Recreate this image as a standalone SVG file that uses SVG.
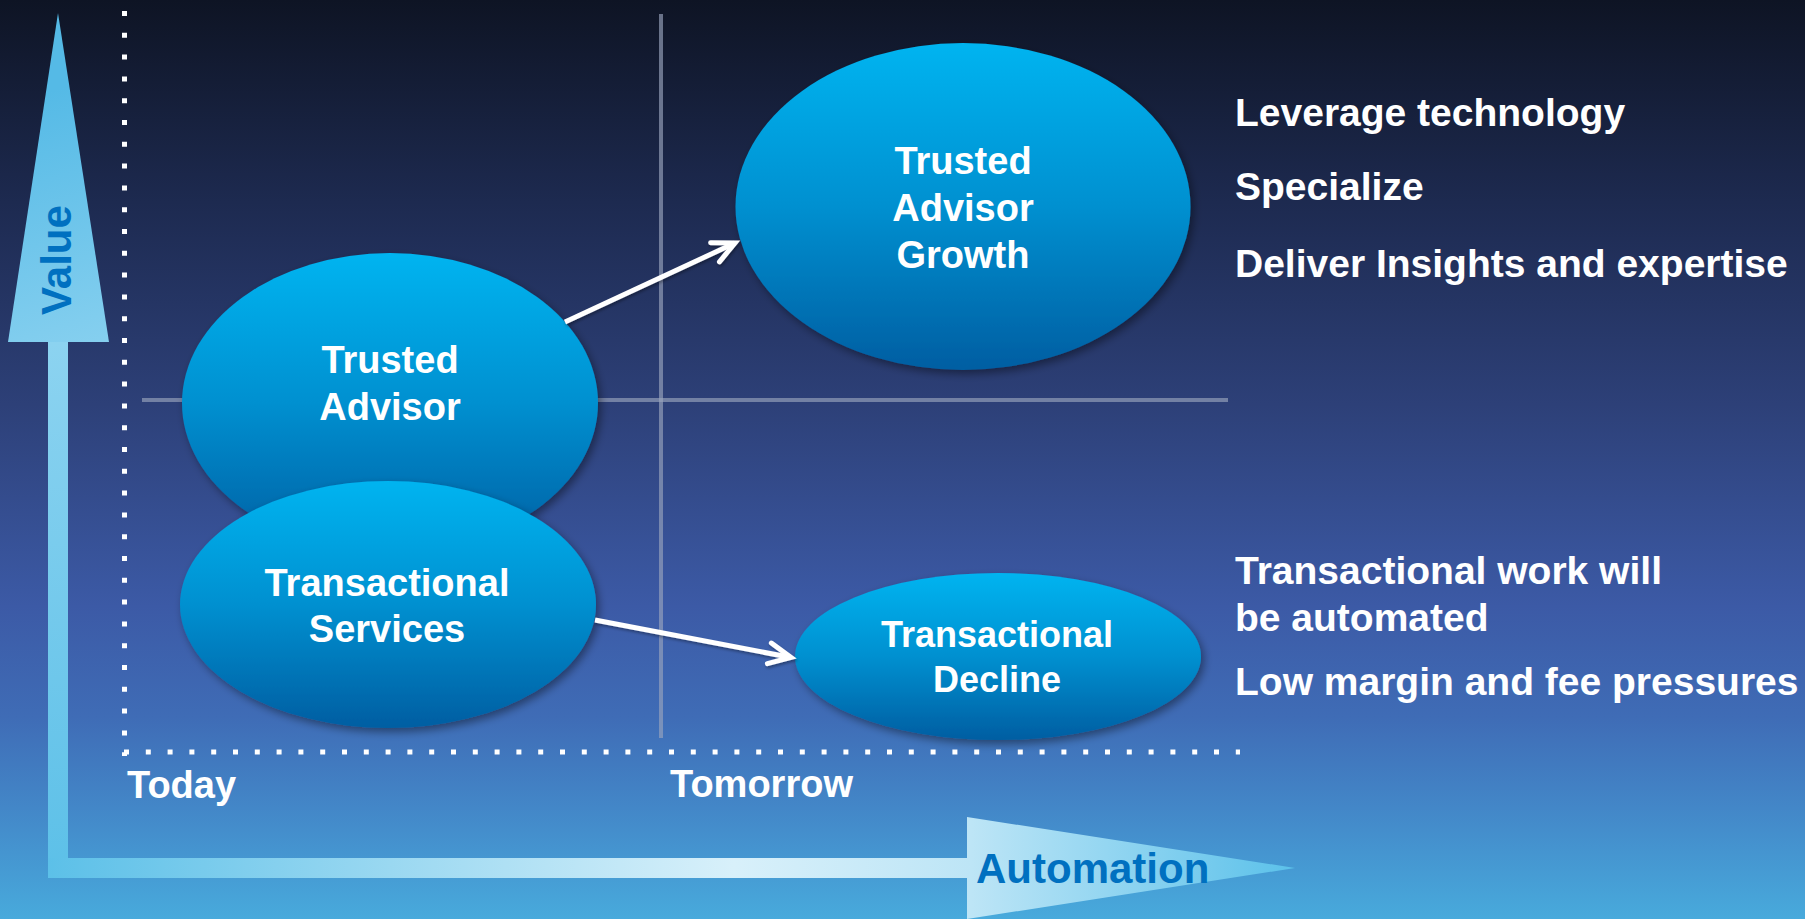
<svg xmlns="http://www.w3.org/2000/svg" width="1805" height="919" viewBox="0 0 1805 919">
  <defs>
    <linearGradient id="bg" x1="0" y1="0" x2="0" y2="919" gradientUnits="userSpaceOnUse">
      <stop offset="0" stop-color="#0e1424"/>
      <stop offset="0.22" stop-color="#1d2a50"/>
      <stop offset="0.44" stop-color="#2d4078"/>
      <stop offset="0.66" stop-color="#3c5aa6"/>
      <stop offset="0.78" stop-color="#3f6cb6"/>
      <stop offset="0.88" stop-color="#4387c8"/>
      <stop offset="1" stop-color="#48aadc"/>
    </linearGradient>
    <linearGradient id="valueGrad" x1="20" y1="100" x2="110" y2="400" gradientUnits="userSpaceOnUse">
      <stop offset="0" stop-color="#55bae6"/>
      <stop offset="1" stop-color="#90d4f1"/>
    </linearGradient>
    <linearGradient id="shaftV" x1="0" y1="342" x2="0" y2="878" gradientUnits="userSpaceOnUse">
      <stop offset="0" stop-color="#8cd3f0"/>
      <stop offset="1" stop-color="#5cc0e8"/>
    </linearGradient>
    <linearGradient id="autoGrad" x1="48" y1="0" x2="1295" y2="0" gradientUnits="userSpaceOnUse">
      <stop offset="0" stop-color="#5cc0e8"/>
      <stop offset="0.55" stop-color="#d8f0fa"/>
      <stop offset="0.74" stop-color="#bde5f6"/>
      <stop offset="1" stop-color="#5bc1ea"/>
    </linearGradient>
    <linearGradient id="ell" x1="0" y1="0" x2="0" y2="1">
      <stop offset="0" stop-color="#00b4f0"/>
      <stop offset="0.5" stop-color="#0090d0"/>
      <stop offset="1" stop-color="#005ea2"/>
    </linearGradient>
    <filter id="shadow" x="-10%" y="-10%" width="125%" height="130%">
      <feDropShadow dx="3" dy="4" stdDeviation="4" flood-color="#000" flood-opacity="0.4"/>
    </filter>
    <filter id="lshadow" x="-10%" y="-20%" width="120%" height="160%">
      <feDropShadow dx="1" dy="2" stdDeviation="1.5" flood-color="#000" flood-opacity="0.35"/>
    </filter>
    <marker id="arrow" markerUnits="userSpaceOnUse" viewBox="-30 -15 36 30" refX="0" refY="0" markerWidth="36" markerHeight="30" orient="auto" overflow="visible">
      <path d="M-22,-10.5 L0,0 L-22,10.5" fill="none" stroke="#ffffff" stroke-width="5" stroke-linecap="round" stroke-linejoin="miter"/>
    </marker>
    <style>
      .dots { stroke: #ffffff; stroke-width: 5; stroke-dasharray: 5 16.8; fill: none; }
      .grid { stroke: #9aa4bd; stroke-opacity: 0.65; stroke-width: 4; fill: none; }
      .node { fill: url(#ell); filter: url(#shadow); }
      .ntxt { font-family: "Liberation Sans", Arial, sans-serif; font-weight: bold; font-size: 38px; fill: #ffffff; text-anchor: middle; }
      .side { font-family: "Liberation Sans", Arial, sans-serif; font-weight: bold; font-size: 39px; fill: #ffffff; }
      .axis { font-family: "Liberation Sans", Arial, sans-serif; font-weight: bold; font-size: 42px; fill: #0070c0; }
      .time { font-family: "Liberation Sans", Arial, sans-serif; font-weight: bold; font-size: 38px; fill: #ffffff; }
      .conn { stroke: #ffffff; stroke-width: 5; fill: none; stroke-linecap: butt; marker-end: url(#arrow); filter: url(#lshadow); }
    </style>
  </defs>

  <rect x="0" y="0" width="1805" height="919" fill="url(#bg)"/>

  <g id="axes">
    <polygon points="48,342 68,342 68,878 48,878" fill="url(#shaftV)"/>
    <polygon points="58,13 109,342 8,342" fill="url(#valueGrad)"/>
    <polygon points="48,858 967,858 967,817 1295,868 967,919 967,878 48,878" fill="url(#autoGrad)"/>
    <text class="axis" transform="translate(71,260) rotate(-90)" text-anchor="middle">Value</text>
    <text class="axis" x="976" y="883">Automation</text>
  </g>

  <g id="frame">
    <line class="dots" x1="124.5" y1="11" x2="124.5" y2="756"/>
    <line class="dots" x1="124" y1="752" x2="1240" y2="752"/>
    <line class="grid" x1="661" y1="14" x2="661" y2="738"/>
    <line class="grid" x1="142" y1="400" x2="1228" y2="400"/>
    <text class="time" x="127" y="798">Today</text>
    <text class="time" x="670" y="797">Tomorrow</text>
  </g>

  <g id="node-trusted-advisor">
    <ellipse class="node" cx="390" cy="403" rx="208" ry="150"/>
    <text class="ntxt" x="390" y="373">Trusted</text>
    <text class="ntxt" x="390" y="420">Advisor</text>
  </g>

  <g id="node-transactional-services">
    <ellipse class="node" cx="388" cy="604.5" rx="208" ry="123.5"/>
    <text class="ntxt" x="387" y="596">Transactional</text>
    <text class="ntxt" x="387" y="642">Services</text>
  </g>

  <g id="node-trusted-advisor-growth">
    <ellipse class="node" cx="963" cy="206.5" rx="227.5" ry="163.5"/>
    <text class="ntxt" x="963" y="174">Trusted</text>
    <text class="ntxt" x="963" y="221">Advisor</text>
    <text class="ntxt" x="963" y="268">Growth</text>
  </g>

  <g id="node-transactional-decline">
    <ellipse class="node" cx="998" cy="656.5" rx="203" ry="83.5"/>
    <text class="ntxt" x="997" y="647" style="font-size:36px">Transactional</text>
    <text class="ntxt" x="997" y="692" style="font-size:36px">Decline</text>
  </g>

  <g id="connectors">
    <line class="conn" x1="565" y1="322" x2="735" y2="243"/>
    <line class="conn" x1="595" y1="620" x2="791" y2="657.5"/>
  </g>

  <g id="notes">
    <text class="side" x="1235" y="126">Leverage technology</text>
    <text class="side" x="1235" y="200">Specialize</text>
    <text class="side" x="1235" y="277">Deliver Insights and expertise</text>
    <text class="side" x="1235" y="584">Transactional work will</text>
    <text class="side" x="1235" y="631">be automated</text>
    <text class="side" x="1235" y="695">Low margin and fee pressures</text>
  </g>
</svg>
